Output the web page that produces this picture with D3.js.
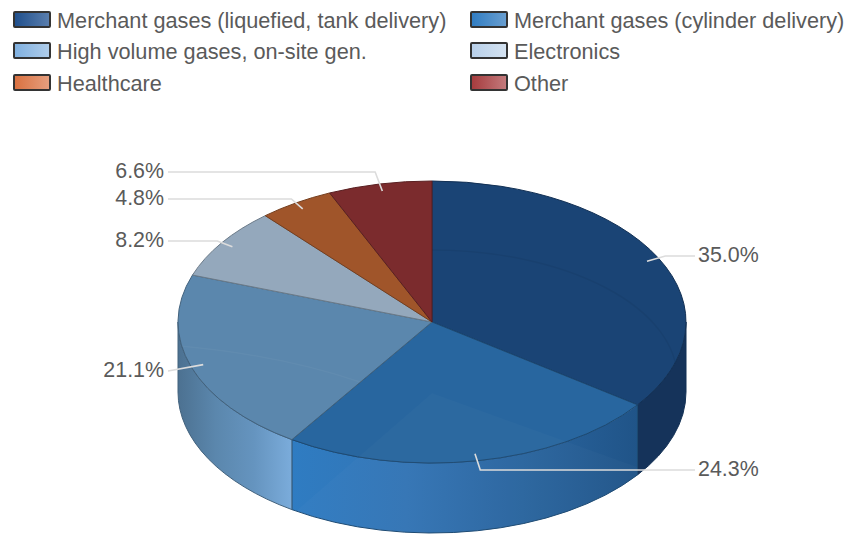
<!DOCTYPE html>
<html>
<head>
  <meta charset="utf-8">
  <title>Gas market segments</title>
  <style type="text/css">
    html, body{margin: 0; padding: 0; background: #fff;}
    svg{display: block;}
    text{font-family: "Liberation Sans", Arial, sans-serif; fill: #5a5a5a;}
  </style>
</head>
<body>
  <script src="https://cdn.jsdelivr.net/npm/d3@7/dist/d3.min.js"></script>
  <script>
    var categories = [
      'Merchant gases (liquefied, tank delivery)',
      'Merchant gases (cylinder delivery)',
      'High volume gases, on-site gen.',
      'Electronics',
      'Healthcare',
      'Other'
    ];
    var shares = [35.0, 24.3, 21.1, 8.2, 4.8, 6.6];

    var topColors = ['#1a4475', '#28669f', '#5b87ad', '#94a8bc', '#a0552a', '#7b2b2d'];
    var swatchFrom = ['#1f4f8c', '#2f7cc2', '#7fb0e0', '#b8d0ea', '#d9703f', '#a53a3c'];
    var swatchTo = ['#5b7fae', '#6a9fd0', '#b0cdea', '#d4e2f0', '#e6a080', '#c47c7e'];

    // side wall shading, left to right, only the slices that face the viewer
    var wallStops = {
      0: ['#15335a', '#15335a'],
      1: ['#2f7cc2', '#3375b5', '#2a659f', '#205488'],
      2: ['#4c7191', '#5b87ad', '#6594bf', '#7bacdb']
    };

    var width = 850,
        height = 534;

    var cx = 432,
        cy = 322,
        rx = 254,
        ry = 141,
        depth = 70;

    // y of each value label, same order as the shares
    var labelY = [256, 470, 371, 241, 199, 172];

    var svg = d3.select('body')
        .append('svg')
        .attr('width', width)
        .attr('height', height);

    var defs = svg.append('defs');

    var pie = d3.pie().sort(null).value(function(d){return d});
    var slices = pie(shares);

    // angle runs clockwise from twelve o'clock, as in d3.pie
    function onRim(angle, k, drop){
      return [cx + rx*k*Math.sin(angle), cy - ry*k*Math.cos(angle) + (drop || 0)];
    }

    function wallPath(a0, a1){
      var p0 = onRim(a0, 1), p1 = onRim(a1, 1);
      return 'M' + p0 + 'A' + rx + ',' + ry + ' 0 0 1 ' + p1 +
        'L' + [p1[0], p1[1] + depth] +
        'A' + rx + ',' + ry + ' 0 0 0 ' + [p0[0], p0[1] + depth] + 'Z';
    }

    function topPath(d){
      var p0 = onRim(d.startAngle, 1), p1 = onRim(d.endAngle, 1);
      var large = d.endAngle - d.startAngle > Math.PI ? 1 : 0;
      return 'M' + [cx, cy] + 'L' + p0 +
        'A' + rx + ',' + ry + ' 0 ' + large + ' 1 ' + p1 + 'Z';
    }

    // walls: only the part of each slice between 3 and 9 o'clock shows
    var walls = slices.map(function(d){
      return {
        index: d.index,
        a0: Math.max(d.startAngle, Math.PI/2),
        a1: Math.min(d.endAngle, Math.PI*3/2)
      };
    }).filter(function(w){return w.a1 > w.a0});

    walls.forEach(function(w){
      var stops = wallStops[w.index];
      var xs = [onRim(w.a0, 1)[0], onRim(w.a1, 1)[0]];
      var grad = defs.append('linearGradient')
          .attr('id', 'wall' + w.index)
          .attr('gradientUnits', 'userSpaceOnUse')
          .attr('x1', d3.min(xs))
          .attr('x2', d3.max(xs))
          .attr('y1', 0)
          .attr('y2', 0);
      stops.forEach(function(c, i){
        grad.append('stop')
          .attr('offset', i/(stops.length - 1))
          .attr('stop-color', c);
      });
    });

    var chart = svg.append('g');

    chart.selectAll('path.wall')
      .data(walls)
      .enter()
      .append('path')
      .attr('class', 'wall')
      .attr('d', function(w){return wallPath(w.a0, w.a1)})
      .style('fill', function(w){return 'url(#wall' + w.index + ')'})
      .style('stroke', function(w){return d3.color(topColors[w.index]).darker(0.9)})
      .style('stroke-width', 1);

    chart.selectAll('path.top')
      .data(slices)
      .enter()
      .append('path')
      .attr('class', 'top')
      .attr('d', topPath)
      .style('fill', function(d){return topColors[d.index]})
      .style('stroke', function(d){return d3.color(topColors[d.index]).darker(0.9)})
      .style('stroke-width', 1)
      .style('stroke-linejoin', 'round');

    // faint sheen on the large slices
    slices.slice(0, 3).forEach(function(d){
      defs.append('clipPath')
        .attr('id', 'clip' + d.index)
        .append('path')
        .attr('d', topPath(d));
    });

    defs.append('clipPath')
      .attr('id', 'clipCylinder')
      .call(function(c){
        c.append('path').attr('d', topPath(slices[1]));
        c.append('path').attr('d', wallPath(slices[1].startAngle, slices[1].endAngle));
      });

    chart.append('ellipse')
      .attr('clip-path', 'url(#clip0)')
      .attr('cx', cx)
      .attr('cy', 378)
      .attr('rx', 245)
      .attr('ry', 128)
      .style('fill', 'none')
      .style('stroke', '#000')
      .style('stroke-opacity', 0.05)
      .style('stroke-width', 1.5);

    chart.append('path')
      .attr('clip-path', 'url(#clip2)')
      .attr('d', 'M180,346Q280,355 360,382')
      .style('fill', 'none')
      .style('stroke', '#fff')
      .style('stroke-opacity', 0.035)
      .style('stroke-width', 1.5);

    chart.append('path')
      .attr('clip-path', 'url(#clipCylinder)')
      .attr('d', 'M432,393L295,512L400,560L640,560L640,468Z')
      .style('fill', '#fff')
      .style('fill-opacity', 0.02);

    // value labels and their leader lines
    var leaders = slices.map(function(d, i){
      var mid = (d.startAngle + d.endAngle)/2;
      var anchor = onRim(mid, 0.95);
      var right = Math.sin(mid) > 0;
      var k = (labelY[i] - cy)/(-ry*Math.cos(mid));
      var elbow = onRim(mid, k);
      var endX = right ? 695 : 168;
      return {
        index: i,
        right: right,
        points: Math.abs(elbow[0] - endX) < 4 ?
          [anchor, [endX, labelY[i]]] :
          [anchor, elbow, [endX, labelY[i]]]
      };
    });

    var line = d3.line();

    svg.selectAll('path.leader')
      .data(leaders)
      .enter()
      .append('path')
      .attr('class', 'leader')
      .attr('d', function(l){return line(l.points)})
      .style('fill', 'none')
      .style('stroke', '#dcdcdc')
      .style('stroke-width', 1.6);

    svg.selectAll('text.value')
      .data(leaders)
      .enter()
      .append('text')
      .attr('class', 'value')
      .attr('x', function(l){return l.right ? 698 : 164})
      .attr('y', function(l){return labelY[l.index] - 1})
      .attr('dy', '0.35em')
      .attr('text-anchor', function(l){return l.right ? 'start' : 'end'})
      .style('font-size', '21.4px')
      .text(function(l){return shares[l.index].toFixed(1) + '%'});

    // legend, two columns of three rows
    var legendX = d3.scaleOrdinal().domain([0, 1]).range([14, 471]);
    var legendY = d3.scaleOrdinal().domain([0, 1, 2]).range([12, 43, 75]);

    categories.forEach(function(c, i){
      var grad = defs.append('linearGradient').attr('id', 'swatch' + i);
      grad.append('stop').attr('offset', 0).attr('stop-color', swatchFrom[i]);
      grad.append('stop').attr('offset', 1).attr('stop-color', swatchTo[i]);
    });

    var items = svg.selectAll('g.item')
      .data(categories)
      .enter()
      .append('g')
      .attr('class', 'item')
      .attr('transform', function(d, i){
        return 'translate(' + legendX(i%2) + ',' + legendY(Math.floor(i/2)) + ')';
      });

    items.append('rect')
      .attr('width', 36)
      .attr('height', 15)
      .attr('rx', 1)
      .style('fill', function(d, i){return 'url(#swatch' + i + ')'})
      .style('stroke', '#333')
      .style('stroke-width', 2);

    items.append('text')
      .attr('x', 43)
      .attr('y', 8)
      .attr('dy', '0.35em')
      .style('font-size', '21.7px')
      .text(function(d){return d});
  </script>
</body>
</html>
